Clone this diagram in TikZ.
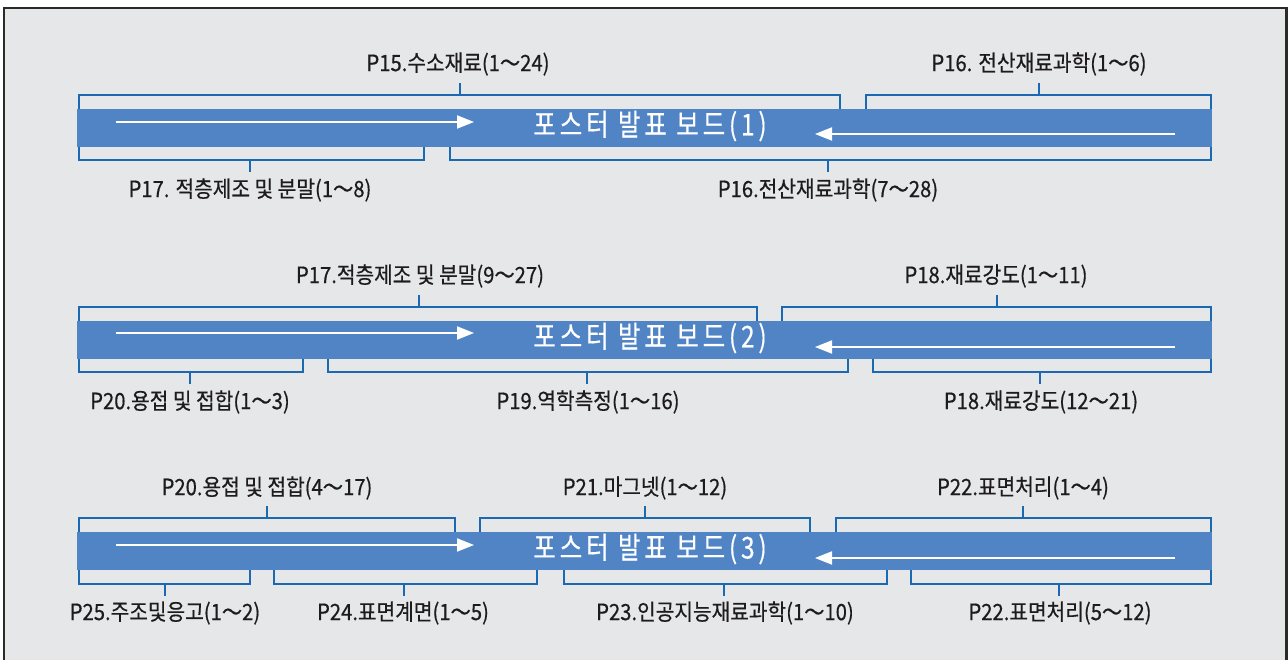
\documentclass[tikz,border=0pt]{standalone}
\usepackage{fontspec}
\newfontfamily\lblfont[FakeStretch=0.9,FakeBold=0.5]{Noto Sans CJK KR}
\newfontfamily\ttlfont[FakeStretch=0.82,LetterSpace=12.5,FakeBold=0.3]{Noto Sans CJK KR}
\usetikzlibrary{arrows.meta}
\definecolor{bgc}{HTML}{E6E7E9}
\definecolor{framec}{HTML}{2A2A2A}
\definecolor{barc}{HTML}{5184C5}
\definecolor{brkc}{HTML}{1B68B3}
\definecolor{txtc}{HTML}{1E1B1C}
\tikzset{
  barbox/.style={fill=barc, draw=none, minimum width=1135pt, minimum height=38pt, inner sep=0pt},
  ttl/.style={text=white, font=\ttlfont\fontsize{30}{33}\selectfont, inner sep=0pt},
  lbl/.style={text=txtc, font=\lblfont\fontsize{22.5}{26}\selectfont, inner sep=0pt},
  brk/.style={draw=brkc, line width=2.2pt},
  warrow/.style={draw=white, line width=2pt, -{Triangle[length=17pt,width=13pt]}},
}
\begin{document}
\begin{tikzpicture}[x=1pt,y=-1pt]
\useasboundingbox (0,0) rectangle (1288,660);
\fill[white] (0,0) rectangle (1288,660);
\draw[fill=bgc, draw=framec, line width=2.5pt] (3.8,7.8) rectangle (1286.3,690);

% ---------------- Board 1 (top 109) ----------------
\draw[brk] (79,109) -- (79,95) -- (840,95) -- (840,109);
\draw[brk] (460,95) -- (460,83);
\draw[brk] (866,109) -- (866,95) -- (1211,95) -- (1211,109);
\draw[brk] (1039,95) -- (1039,83);
\draw[brk] (79,147) -- (79,160) -- (424,160) -- (424,147);
\draw[brk] (250,160) -- (250,172);
\draw[brk] (450,147) -- (450,160) -- (1211,160) -- (1211,147);
\draw[brk] (828,160) -- (828,172);
\node[barbox] (bar1) at (644.5,128) {};
\node[ttl] (ttl1) at (650,126) {포스터 발표 보드(1)};
\coordinate (r1s) at (116,122); \coordinate (r1e) at (474,122);
\draw[warrow] (r1s) -- (r1e);
\coordinate (l1s) at (1175,134); \coordinate (l1e) at (815,134);
\draw[warrow] (l1s) -- (l1e);
\node[lbl] (t1a) at (458,64) {P15.수소재료(1～24)};
\node[lbl] (t1b) at (1039,64) {P16. 전산재료과학(1～6)};
\node[lbl] (u1a) at (250,190) {P17. 적층제조 및 분말(1～8)};
\node[lbl] (u1b) at (828,190) {P16.전산재료과학(7～28)};

% ---------------- Board 2 (top 321) ----------------
\draw[brk] (79,321) -- (79,307) -- (757,307) -- (757,321);
\draw[brk] (419,307) -- (419,295);
\draw[brk] (782,321) -- (782,307) -- (1211,307) -- (1211,321);
\draw[brk] (997,307) -- (997,295);
\draw[brk] (79,359) -- (79,372) -- (303,372) -- (303,359);
\draw[brk] (190,372) -- (190,384);
\draw[brk] (328,359) -- (328,372) -- (848,372) -- (848,359);
\draw[brk] (587,372) -- (587,384);
\draw[brk] (873,359) -- (873,372) -- (1211,372) -- (1211,359);
\draw[brk] (1040,372) -- (1040,384);
\node[barbox] (bar2) at (644.5,340) {};
\node[ttl] (ttl2) at (650,338) {포스터 발표 보드(2)};
\coordinate (r2s) at (116,333); \coordinate (r2e) at (474,333);
\draw[warrow] (r2s) -- (r2e);
\coordinate (l2s) at (1175,347); \coordinate (l2e) at (815,347);
\draw[warrow] (l2s) -- (l2e);
\node[lbl] (t2a) at (420,276) {P17.적층제조 및 분말(9～27)};
\node[lbl] (t2b) at (996,276) {P18.재료강도(1～11)};
\node[lbl] (u2a) at (190,402) {P20.용접 및 접합(1～3)};
\node[lbl] (u2b) at (588,402) {P19.역학측정(1～16)};
\node[lbl] (u2c) at (1041,402) {P18.재료강도(12～21)};

% ---------------- Board 3 (top 532) ----------------
\draw[brk] (79,532) -- (79,518) -- (455,518) -- (455,532);
\draw[brk] (267,518) -- (267,506);
\draw[brk] (480,532) -- (480,518) -- (810,518) -- (810,532);
\draw[brk] (645,518) -- (645,506);
\draw[brk] (836,532) -- (836,518) -- (1211,518) -- (1211,532);
\draw[brk] (1023,518) -- (1023,506);
\draw[brk] (79,570) -- (79,584) -- (250,584) -- (250,570);
\draw[brk] (165,584) -- (165,596);
\draw[brk] (274,570) -- (274,584) -- (537,584) -- (537,570);
\draw[brk] (404,584) -- (404,596);
\draw[brk] (564,570) -- (564,584) -- (887,584) -- (887,570);
\draw[brk] (724,584) -- (724,596);
\draw[brk] (911,570) -- (911,584) -- (1211,584) -- (1211,570);
\draw[brk] (1059,584) -- (1059,596);
\node[barbox] (bar3) at (644.5,551) {};
\node[ttl] (ttl3) at (650,549) {포스터 발표 보드(3)};
\coordinate (r3s) at (116,545); \coordinate (r3e) at (474,545);
\draw[warrow] (r3s) -- (r3e);
\coordinate (l3s) at (1175,558); \coordinate (l3e) at (815,558);
\draw[warrow] (l3s) -- (l3e);
\node[lbl] (t3a) at (267,488) {P20.용접 및 접합(4～17)};
\node[lbl] (t3b) at (645,488) {P21.마그넷(1～12)};
\node[lbl] (t3c) at (1023,488) {P22.표면처리(1～4)};
\node[lbl] (u3a) at (165,613) {P25.주조및응고(1～2)};
\node[lbl] (u3b) at (403,613) {P24.표면계면(1～5)};
\node[lbl] (u3c) at (725,613) {P23.인공지능재료과학(1～10)};
\node[lbl] (u3d) at (1060,613) {P22.표면처리(5～12)};
\end{tikzpicture}
\end{document}
